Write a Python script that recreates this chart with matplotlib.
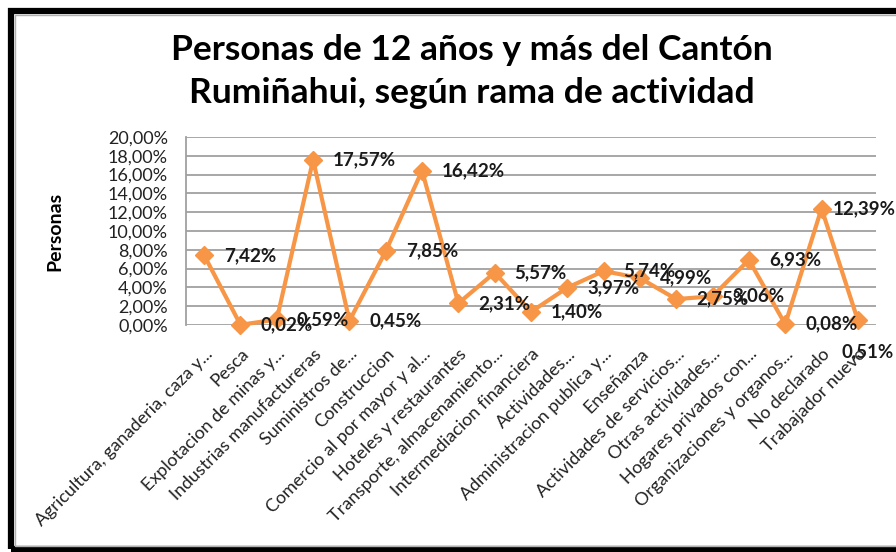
import matplotlib.pyplot as plt
from matplotlib.patches import Rectangle
from matplotlib.ticker import FuncFormatter

plt.rcParams['font.family'] = ['Lato', 'DejaVu Sans']

categorias = [
    "Agricultura, ganaderia, caza y...", "Pesca", "Explotacion de minas y...",
    "Industrias manufactureras", "Suministros de...", "Construccion",
    "Comercio al por mayor y al...", "Hoteles y restaurantes",
    "Transporte, almacenamiento...", "Intermediacion financiera",
    "Actividades...", "Administracion publica y...", "Enseñanza",
    "Actividades de servicios...", "Otras actividades...",
    "Hogares privados con...", "Organizaciones y organos...",
    "No declarado", "Trabajador nuevo",
]
porcentajes = [7.42, 0.02, 0.59, 17.57, 0.45, 7.85, 16.42, 2.31, 5.57, 1.40,
               3.97, 5.74, 4.99, 2.75, 3.06, 6.93, 0.08, 12.39, 0.51]

naranja = "#F79646"


def fmt_pct(v, pos=None):
    return f"{v:.2f}%".replace(".", ",")


fig = plt.figure(figsize=(8.96, 5.52), dpi=100)
ax = fig.add_axes([186 / 896, 1 - 325 / 552, 690 / 896, 188 / 552])

x = list(range(len(categorias)))
ax.plot(x, porcentajes, color=naranja, lw=3, marker="D", ms=9,
        markerfacecolor=naranja, markeredgecolor=naranja, zorder=3,
        clip_on=False)

n = len(x)
for i, (xi, v) in enumerate(zip(x, porcentajes)):
    # labels near the right edge get pulled in, as in the original
    if i == n - 1:
        off = (-16, -32)
    elif i == n - 2:
        off = (11, 0)
    else:
        off = (20, 0)
    ax.annotate(fmt_pct(v), (xi, v), xytext=off, textcoords="offset pixels",
                ha="left", va="center", fontsize=13.5, fontweight="bold",
                color="#1a1a1a", zorder=4, annotation_clip=False)

ax.set_xlim(-0.5, n - 0.5)
ax.set_ylim(0, 20)
ax.set_yticks(range(0, 21, 2))
ax.yaxis.set_major_formatter(FuncFormatter(fmt_pct))
ax.grid(axis="y", color="#a0a0a0", lw=1.3)
ax.set_axisbelow(True)
for s in ["top", "right", "bottom"]:
    ax.spines[s].set_visible(False)
ax.spines["left"].set_color("#a0a0a0")
ax.spines["left"].set_linewidth(1.3)
ax.tick_params(axis="y", length=0, labelsize=13, pad=13, colors="#222222")
ax.tick_params(axis="x", length=0, labelsize=13, pad=15, colors="#222222")
ax.set_xticks(x)
ax.set_xticklabels(categorias, rotation=45, ha="right", rotation_mode="anchor")

ax.set_ylabel("Personas", fontsize=14, fontweight="bold")
ax.yaxis.set_label_coords(-0.178, 0.5)

fig.text(0.527, 1 - 50 / 552, "Personas de 12 años y más del Cantón",
         ha="center", va="center", fontsize=25.5, fontweight="bold")
fig.text(0.527, 1 - 93 / 552, "Rumiñahui, según rama de actividad",
         ha="center", va="center", fontsize=25.5, fontweight="bold")

# thick black frame that runs off the right edge, with a thin grey inner line
fig.patches.append(Rectangle((10.5 / 896, 3 / 552), 900 / 896, 538.5 / 552,
                             transform=fig.transFigure, fill=False,
                             edgecolor="black", lw=4.5))
fig.patches.append(Rectangle((14.5 / 896, 6.5 / 552), 900 / 896, 531 / 552,
                             transform=fig.transFigure, fill=False,
                             edgecolor="#b0b0b0", lw=1))

fig.savefig("out.png", dpi=100)
